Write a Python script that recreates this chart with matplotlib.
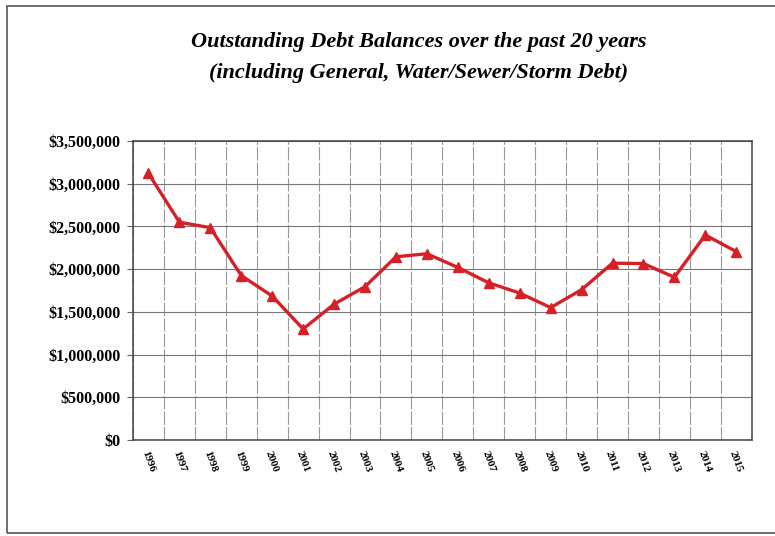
import matplotlib.pyplot as plt
from matplotlib.ticker import FuncFormatter, MultipleLocator
from matplotlib.patches import Rectangle

# Data
years = [str(y) for y in range(1996, 2016)]
debt = [3120000, 2550000, 2485000, 1925000, 1685000, 1300000, 1590000, 1795000,
        2145000, 2180000, 2020000, 1840000, 1720000, 1550000, 1760000, 2070000,
        2065000, 1905000, 2400000, 2205000]

title_1 = "Outstanding Debt Balances over the past 20 years"
title_2 = "(including General, Water/Sewer/Storm Debt)"

serif = ["Liberation Serif", "DejaVu Serif"]

fig = plt.figure(figsize=(7.75, 5.36), dpi=100)
ax = fig.add_axes([0.1716, 0.179, 0.7984, 0.558])

# outer chart frame
fig.patches.append(Rectangle((7 / 775, 3 / 536), 1.0, 1 - 9 / 536, transform=fig.transFigure,
                             fill=False, edgecolor="#555555", linewidth=1.2))

x = list(range(len(years)))
ax.plot(x, debt, color="#d62027", linewidth=2.4, marker="^", markersize=7,
        markerfacecolor="#d62027", markeredgecolor="#d62027", zorder=3)

ax.set_xlim(-0.5, len(years) - 0.5)
ax.set_ylim(0, 3500000)
ax.yaxis.set_major_locator(MultipleLocator(500000))
ax.yaxis.set_major_formatter(FuncFormatter(lambda v, p: f"${v:,.0f}"))

# gridlines: horizontal solid, vertical at category boundaries
ax.set_xticks([i - 0.5 for i in range(len(years) + 1)], minor=False)
ax.set_xticklabels([])
ax.set_xticks(x, minor=True)
ax.set_xticklabels(years, minor=True, rotation=-70, ha="left", va="top",
                   rotation_mode="anchor", family=serif, fontweight="bold", fontsize=8)
ax.tick_params(axis="x", which="minor", length=0, pad=7)
ax.tick_params(axis="x", which="major", length=0)
ax.tick_params(axis="y", length=4, color="#666666", pad=5)
for lab in ax.get_yticklabels():
    lab.set_family(serif)
    lab.set_fontweight("bold")
    lab.set_fontsize(11.5)

ax.grid(axis="y", color="#777777", linewidth=0.8)
ax.grid(axis="x", which="major", color="#999999", linewidth=0.8, linestyle=(0, (12, 2)))
ax.set_axisbelow(True)
for s in ax.spines.values():
    s.set_color("#444444")
    s.set_linewidth(1.1)

fig.text(419 / 775, 1 - 42 / 536, title_1, ha="center", va="center", family=serif,
         fontweight="bold", style="italic", fontsize=16)
fig.text(419 / 775, 1 - 73 / 536, title_2, ha="center", va="center", family=serif,
         fontweight="bold", style="italic", fontsize=16)

fig.savefig("out.png", dpi=100, facecolor="white")
